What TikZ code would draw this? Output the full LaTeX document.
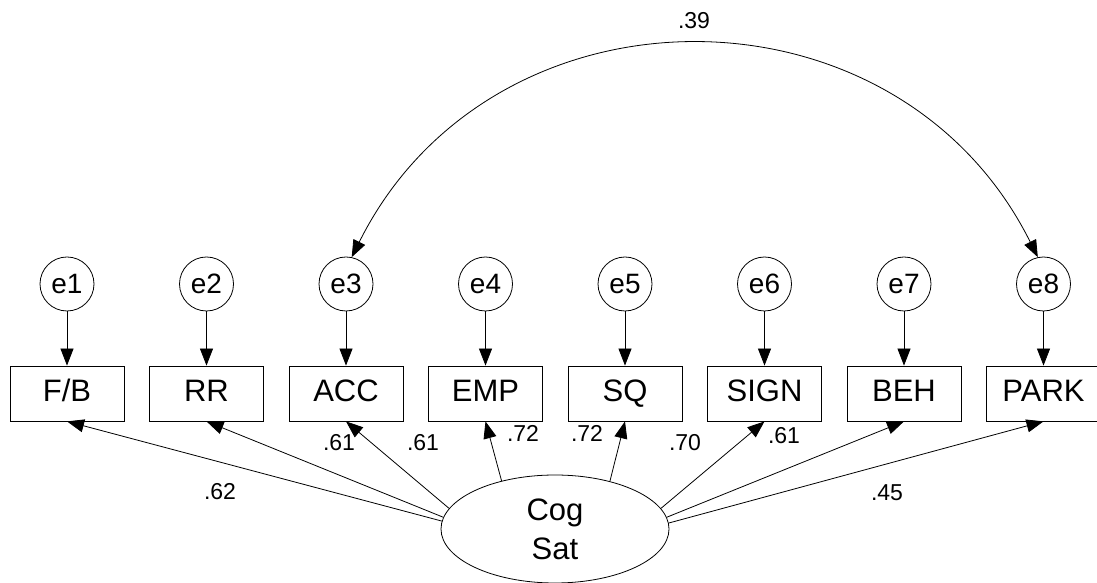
\documentclass[tikz,border=0pt]{standalone}
\usepackage{fontspec}
\setmainfont{Liberation Sans}
\usetikzlibrary{shapes.geometric,arrows.meta}
\begin{document}
\begin{tikzpicture}[x=1pt,y=1pt,
  err/.style={draw, circle, minimum size=54pt, inner sep=0pt, line width=0.8pt,
              font=\fontsize{28}{30}\selectfont},
  obs/.style={draw, rectangle, minimum width=114pt, minimum height=55pt, inner sep=0pt,
              line width=0.8pt, text height=22pt, text depth=6pt,
              font=\fontsize{31}{33}\selectfont},
  lat/.style={draw, ellipse, minimum width=228pt, minimum height=108pt, inner sep=0pt,
              line width=0.8pt, align=center, font=\fontsize{31}{39}\selectfont},
  coef/.style={inner sep=0pt, font=\fontsize{23}{25}\selectfont},
  tip/.tip={Triangle[length=17pt,width=13pt]},
  path/.style={-tip, line width=0.8pt},
  cov/.style={tip-tip, line width=0.8pt},
]
\useasboundingbox (0,0) rectangle (1097,583);

% error terms
\node[err] (e1) at (67,299)     {e1};
\node[err] (e2) at (206.5,299)  {e2};
\node[err] (e3) at (346,299)    {e3};
\node[err] (e4) at (485.5,299)  {e4};
\node[err] (e5) at (625,299)    {e5};
\node[err] (e6) at (764.5,299)  {e6};
\node[err] (e7) at (904,299)    {e7};
\node[err] (e8) at (1043.5,299) {e8};

% observed indicators
\node[obs] (fb)   at (67,189.5)     {F/B};
\node[obs] (rr)   at (206.5,189.5)  {RR};
\node[obs] (acc)  at (346,189.5)    {ACC};
\node[obs] (emp)  at (485.5,189.5)  {EMP};
\node[obs] (sq)   at (625,189.5)    {SQ};
\node[obs] (sign) at (764.5,189.5)  {SIGN};
\node[obs] (beh)  at (904,189.5)    {BEH};
\node[obs] (park) at (1043.5,189.5) {PARK};

% latent factor
\node[lat] (cog) at (555,54) {Cog\\Sat};

% residual paths
\draw[path] (e1) -- (fb);
\draw[path] (e2) -- (rr);
\draw[path] (e3) -- (acc);
\draw[path] (e4) -- (emp);
\draw[path] (e5) -- (sq);
\draw[path] (e6) -- (sign);
\draw[path] (e7) -- (beh);
\draw[path] (e8) -- (park);

% factor loadings
\draw[path] (cog.176.3) -- (fb.south);
\draw[path] (cog.174)   -- (rr.south);
\draw[path] (cog.169)   -- (acc.south);
\draw[path] (cog.138.3) -- (emp.south);
\draw[path] (cog.41.7)  -- (sq.south);
\draw[path] (cog.11)    -- (sign.south);
\draw[path] (cog.6)     -- (beh.south);
\draw[path] (cog.3.7)   -- (park.south);

% error covariance
\draw[cov] (e3.78) to[out=63.5, in=116.5, looseness=1.18] (e8.102);

% coefficients
\node[coef] (l1) at (220,91)  {.62};
\node[coef] (l2) at (339,140) {.61};
\node[coef] (l3) at (423,140) {.61};
\node[coef] (l4) at (523,150) {.72};
\node[coef] (l5) at (587,150) {.72};
\node[coef] (l6) at (685,140) {.70};
\node[coef] (l7) at (784,147) {.61};
\node[coef] (l8) at (887,90)  {.45};
\node[coef] (c1) at (694,562) {.39};
\end{tikzpicture}
\end{document}
